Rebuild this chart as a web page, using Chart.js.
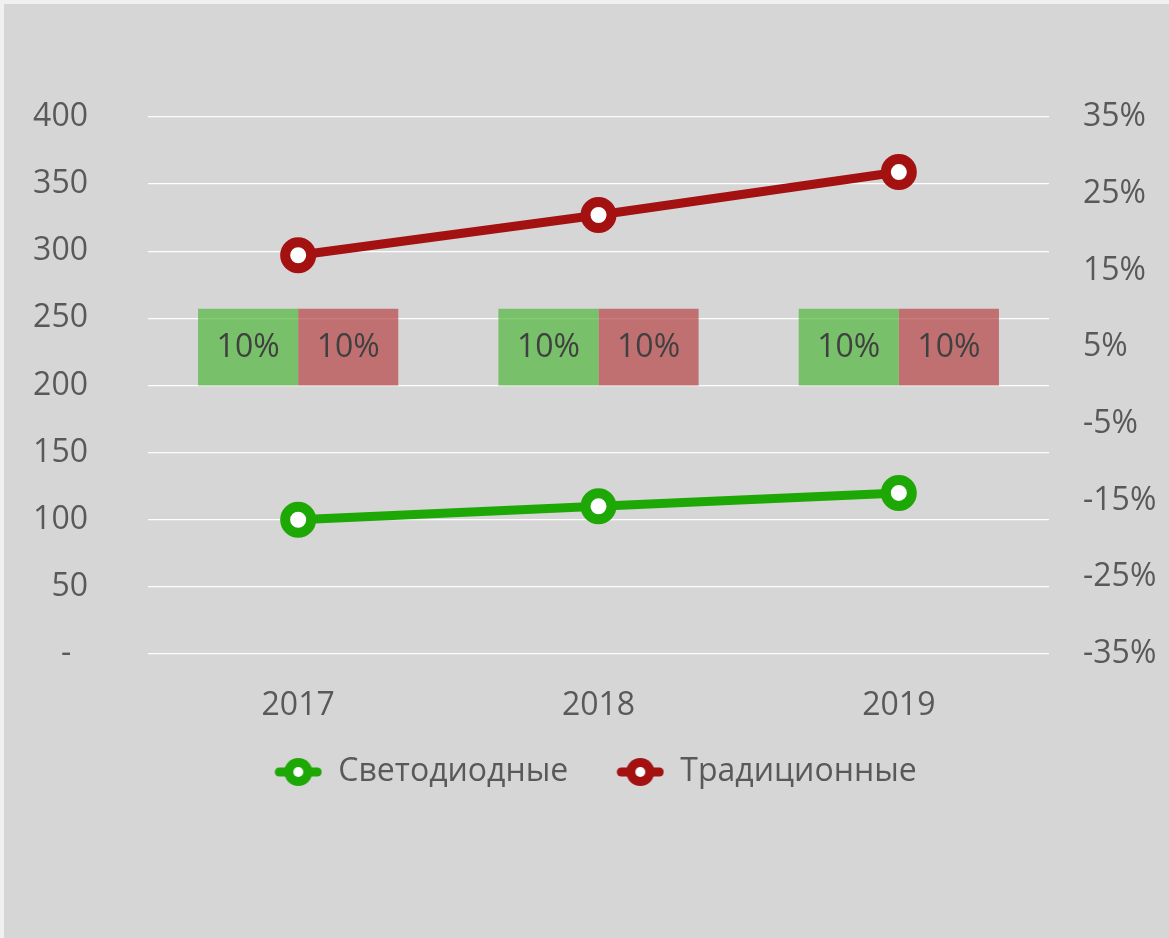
<!DOCTYPE html>
<html>
<head>
<meta charset="utf-8">
<script src="https://cdn.jsdelivr.net/npm/chart.js@4/dist/chart.umd.min.js"></script>
<style>
  html, body { margin: 0; padding: 0; background: #f0f0f0; }
  #wrap { position: absolute; left: 4px; top: 4px; width: 1165px; height: 934px; background: #d6d6d6; }
  canvas { display: block; }
</style>
</head>
<body>
<div id="wrap"><canvas id="c" width="1165" height="934"></canvas></div>
<script>
const categories = ['2017', '2018', '2019'];
const ledValues = [100, 110, 120];
const tradValues = [297, 327, 359];
const ledShare = [10, 10, 10];
const tradShare = [10, 10, 10];
const leftTicks = [0, 50, 100, 150, 200, 250, 300, 350, 400];
const rightTicks = [-35, -25, -15, -5, 5, 15, 25, 35];
const seriesNames = ['Светодиодные', 'Традиционные'];

const GREEN = '#1ea806';
const RED = '#a31111';
const FONT = "'Open Sans', 'Noto Sans', sans-serif";
const TEXT = '#595959';
const FS = 32;
const ICON_W = 66;

function legendIcon(color) {
  const c = document.createElement('canvas');
  c.width = ICON_W; c.height = 30;
  const x = c.getContext('2d');
  x.translate(ICON_W - 48, 0);
  x.strokeStyle = color; x.lineWidth = 9; x.lineCap = 'round';
  x.beginPath(); x.moveTo(5, 15); x.lineTo(43, 15); x.stroke();
  x.fillStyle = color; x.beginPath(); x.arc(24, 15, 14, 0, Math.PI * 2); x.fill();
  x.fillStyle = '#ffffff'; x.beginPath(); x.arc(24, 15, 5, 0, Math.PI * 2); x.fill();
  return c;
}
const icons = [legendIcon(GREEN), legendIcon(RED)];

const barLabels = {
  id: 'barLabels',
  afterDatasetsDraw(chart) {
    const ctx = chart.ctx;
    ctx.save();
    ctx.font = FS + 'px ' + FONT;
    ctx.fillStyle = '#404040';
    ctx.textAlign = 'center';
    ctx.textBaseline = 'middle';
    chart.data.datasets.forEach((ds, i) => {
      if (ds.type !== 'bar') return;
      const meta = chart.getDatasetMeta(i);
      meta.data.forEach((el, j) => {
        ctx.fillText(ds.data[j] + '%', el.x, (el.y + el.base) / 2 + 1);
      });
    });
    ctx.restore();
  }
};

new Chart(document.getElementById('c'), {
  data: {
    labels: categories,
    datasets: [
      { type: 'line', label: seriesNames[0], data: ledValues, yAxisID: 'y',
        borderColor: GREEN, borderWidth: 9, pointRadius: 13, pointHoverRadius: 13,
        pointBorderWidth: 10, pointBackgroundColor: '#ffffff', pointBorderColor: GREEN,
        pointStyle: 'circle', order: 1, tension: 0 },
      { type: 'line', label: seriesNames[1], data: tradValues, yAxisID: 'y',
        borderColor: RED, borderWidth: 9, pointRadius: 13, pointHoverRadius: 13,
        pointBorderWidth: 10, pointBackgroundColor: '#ffffff', pointBorderColor: RED,
        pointStyle: 'circle', order: 1, tension: 0 },
      { type: 'bar', label: 'ledShare', data: ledShare, yAxisID: 'y2',
        backgroundColor: 'rgba(80,183,60,0.7)', borderWidth: 0,
        barPercentage: 1, categoryPercentage: 2 / 3, order: 2 },
      { type: 'bar', label: 'tradShare', data: tradShare, yAxisID: 'y2',
        backgroundColor: 'rgba(183,68,68,0.7)', borderWidth: 0,
        barPercentage: 1, categoryPercentage: 2 / 3, order: 2 }
    ]
  },
  options: {
    responsive: false,
    animation: false,
    layout: { padding: { top: 113, bottom: 140, left: 0, right: 0 } },
    plugins: {
      tooltip: { enabled: false },
      legend: {
        position: 'bottom',
        labels: {
          generateLabels: (chart) => seriesNames.map((n, i) => ({
            text: n, datasetIndex: i, pointStyle: icons[i], fontColor: TEXT,
            lineWidth: 0, hidden: false
          })),
          usePointStyle: true,
          pointStyleWidth: ICON_W,
          boxHeight: 30,
          padding: 30,
          color: TEXT,
          font: { family: FONT, size: FS }
        }
      }
    },
    scales: {
      x: {
        offset: true,
        grid: { display: false, drawTicks: false },
        border: { display: false },
        ticks: { color: TEXT, font: { family: FONT, size: FS }, padding: 33 },
        afterFit(s) { s.height = 72; }
      },
      y: {
        position: 'left', min: 0, max: 400,
        grid: { color: 'rgba(255,255,255,0.95)', lineWidth: 1.3, drawTicks: false },
        border: { display: false },
        afterBuildTicks(s) { s.ticks = leftTicks.map(v => ({ value: v })); },
        ticks: { color: TEXT, font: { family: FONT, size: FS }, padding: 60,
          callback: (v) => v === 0 ? '-  ' : String(v) },
        afterFit(s) { s.width = 144; }
      },
      y2: {
        position: 'right', min: -35, max: 35,
        grid: { display: false, drawTicks: false },
        border: { display: false },
        afterBuildTicks(s) { s.ticks = rightTicks.map(v => ({ value: v })); },
        ticks: { color: TEXT, font: { family: FONT, size: FS }, padding: 34,
          callback: (v) => v + '%' },
        afterFit(s) { s.width = 120; }
      }
    }
  },
  plugins: [barLabels]
});
</script>
</body>
</html>
